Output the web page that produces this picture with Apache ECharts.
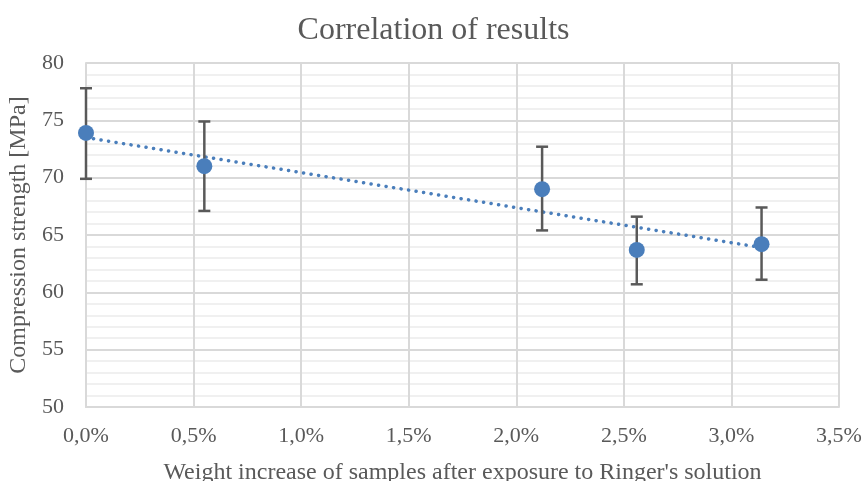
<!DOCTYPE html>
<html>
<head>
<meta charset="utf-8">
<script src="https://cdn.jsdelivr.net/npm/echarts@6/dist/echarts.min.js"></script>
<style>
  html, body { margin: 0; padding: 0; background: #fff; }
  #chart { width: 867px; height: 481px; }
</style>
</head>
<body>
<div id="chart"></div>
<script>
// weight increase [%] and compression strength [MPa]
var weightIncrease = [0.0, 0.55, 2.12, 2.56, 3.14];
var strength = [73.9, 71.0, 69.0, 63.7, 64.2];
var errLow = [69.9, 67.1, 65.4, 60.7, 61.1];
var errHigh = [77.8, 74.9, 72.7, 66.6, 67.4];
// linear trendline end points
var trendX = [0.0, 3.14];
var trendY = [73.5, 63.9];

var font = 'Liberation Serif';
var textColor = '#595959';
var blue = '#4A7EBB';

var chart = echarts.init(document.getElementById('chart'));

var points = weightIncrease.map(function (x, i) { return [x, strength[i]]; });
var bars = weightIncrease.map(function (x, i) { return [x, errLow[i], errHigh[i]]; });
var trend = trendX.map(function (x, i) { return [x, trendY[i]]; });

var option = {
    animation: false,
    title: {
        text: 'Correlation of results',
        left: 'center',
        top: 10,
        textStyle: { fontFamily: font, fontSize: 32, fontWeight: 'normal', color: textColor }
    },
    grid: { left: 86, right: 28, top: 63, bottom: 74, outerBoundsMode: 'none' },
    xAxis: {
        type: 'value',
        min: 0, max: 3.5, interval: 0.5,
        name: "Weight increase of samples after exposure to Ringer's solution",
        nameLocation: 'middle',
        nameGap: 54,
        nameTextStyle: { fontFamily: font, fontSize: 24, color: textColor },
        axisLine: { show: true, lineStyle: { color: '#d9d9d9', width: 2 } },
        axisTick: { show: false },
        axisLabel: {
            fontFamily: font, fontSize: 22, color: textColor, margin: 18,
            formatter: function (v) { return v.toFixed(1).replace('.', ',') + '%'; }
        },
        splitLine: { show: true, lineStyle: { color: '#d9d9d9', width: 2 } }
    },
    yAxis: {
        type: 'value',
        min: 50, max: 80, interval: 5,
        name: 'Compression strength [MPa]',
        nameLocation: 'middle',
        nameGap: 52,
        nameTextStyle: { fontFamily: font, fontSize: 24, color: textColor },
        axisLine: { show: true, lineStyle: { color: '#d9d9d9', width: 2 } },
        axisTick: { show: false },
        axisLabel: { fontFamily: font, fontSize: 22, color: textColor, margin: 22 },
        splitLine: { show: true, lineStyle: { color: '#d9d9d9', width: 2 } },
        minorTick: { show: false, splitNumber: 5 },
        minorSplitLine: { show: true, lineStyle: { color: '#f0f0f0', width: 2 } }
    },
    series: [{
        type: 'line',
        data: trend,
        showSymbol: false,
        symbol: 'none',
        z: 2,
        lineStyle: { color: blue, width: 3.5, type: [0.1, 7.5], cap: 'round' }
    }, {
        type: 'custom',
        data: bars,
        z: 3,
        renderItem: function (params, api) {
            var x = api.value(0);
            var lo = api.coord([x, api.value(1)]);
            var hi = api.coord([x, api.value(2)]);
            var half = 6;
            var style = { stroke: '#595959', lineWidth: 2.5, fill: null };
            return {
                type: 'group',
                children: [
                    { type: 'line', shape: { x1: lo[0], y1: lo[1], x2: hi[0], y2: hi[1] }, style: style },
                    { type: 'line', shape: { x1: lo[0] - half, y1: lo[1], x2: lo[0] + half, y2: lo[1] }, style: style },
                    { type: 'line', shape: { x1: hi[0] - half, y1: hi[1], x2: hi[0] + half, y2: hi[1] }, style: style }
                ]
            };
        }
    }, {
        type: 'scatter',
        data: points,
        symbolSize: 16,
        z: 4,
        itemStyle: { color: blue, opacity: 1 }
    }]
};

chart.setOption(option);
</script>
</body>
</html>
